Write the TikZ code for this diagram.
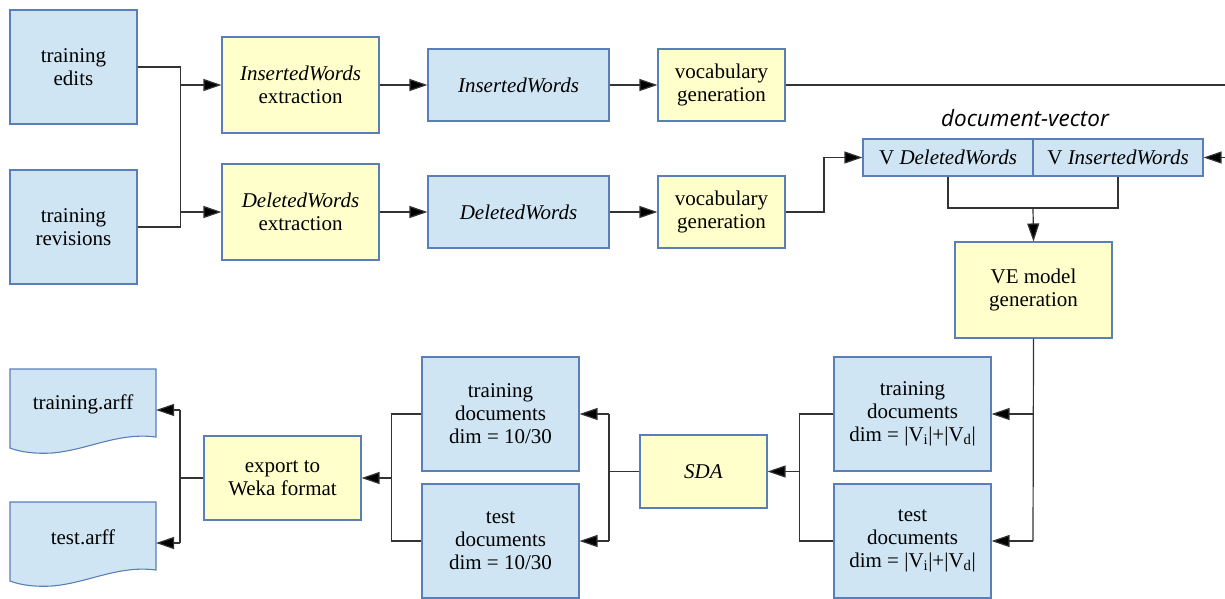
\documentclass[tikz,border=0pt]{standalone}
\usepackage{fontspec}
\setmainfont{Liberation Serif}
\newfontfamily\labelfont{Open Sans}
\usetikzlibrary{arrows.meta}
\definecolor{bfill}{HTML}{CFE5F3}
\definecolor{yfill}{HTML}{FFFFCC}
\definecolor{bord}{HTML}{5A7FB8}
\definecolor{lcol}{HTML}{333333}
\tikzset{
  base/.style={draw=bord, line width=1.1pt, inner sep=0pt, align=center,
    font=\fontsize{21}{23}\selectfont},
  bluebox/.style={base, fill=bfill},
  yellowbox/.style={base, fill=yfill},
  docb/.style={draw=bord, line width=1.1pt, fill=bfill},
  conn/.style={draw=lcol, line width=1.2pt},
  arr/.style={draw=lcol, line width=1.2pt, -{Triangle[length=18pt,width=12pt,fill=black]}},
  doctext/.style={inner sep=0pt, font=\fontsize{21}{23}\selectfont}
}
\begin{document}
\begin{tikzpicture}[x=1pt,y=-1pt]
\useasboundingbox (0,0) rectangle (1225,598);
% top row
\node[bluebox, minimum width=127, minimum height=114] (edits) at (73.5,67) {training\\edits};
\node[bluebox, minimum width=127, minimum height=114] (revs) at (73.5,227) {training\\revisions};
\node[yellowbox, minimum width=157, minimum height=96] (iwext) at (300.5,85) {\textit{InsertedWords}\\extraction};
\node[yellowbox, minimum width=157, minimum height=96] (dwext) at (300.5,212) {\textit{DeletedWords}\\extraction};
\node[bluebox, minimum width=181, minimum height=72] (iw) at (518.5,85) {\textit{InsertedWords}};
\node[bluebox, minimum width=181, minimum height=72] (dw) at (518.5,212) {\textit{DeletedWords}};
\node[yellowbox, minimum width=127, minimum height=72] (voc1) at (721.5,85) {vocabulary\\generation};
\node[yellowbox, minimum width=127, minimum height=72] (voc2) at (721.5,212) {vocabulary\\generation};
% document vector
\node[font=\labelfont\itshape\fontsize{22.5}{26}\selectfont, inner sep=0pt] (dvlabel) at (1025,118) {document-vector};
\node[bluebox, minimum width=170, minimum height=37] (vdw) at (948,157.5) {V \textit{DeletedWords}};
\node[bluebox, minimum width=170, minimum height=37] (viw) at (1118,157.5) {V \textit{InsertedWords}};
\node[yellowbox, minimum width=157, minimum height=96] (ve) at (1033.5,290) {VE model\\generation};
% bottom row
\node[bluebox, minimum width=157, minimum height=114] (trd) at (912.5,414) {training\\documents\\dim = |V\textsubscript{i}|+|V\textsubscript{d}|};
\node[bluebox, minimum width=157, minimum height=114] (ted) at (912.5,541) {test\\documents\\dim = |V\textsubscript{i}|+|V\textsubscript{d}|};
\node[yellowbox, minimum width=127, minimum height=73] (sda) at (703.5,471.5) {\textit{SDA}};
\node[bluebox, minimum width=157, minimum height=114] (tr10) at (500.5,414) {training\\documents\\dim = 10/30};
\node[bluebox, minimum width=157, minimum height=114] (te10) at (500.5,541) {test\\documents\\dim = 10/30};
\node[yellowbox, minimum width=157, minimum height=84] (exp) at (282.5,478) {export to\\Weka format};
% arff documents
\draw[docb] (10,369) -- (156,369) -- (156,437) .. controls (118,432) and (88,450) .. (52,453) .. controls (35,454) and (20,452) .. (10,448) -- cycle;
\draw[docb] (10,502) -- (156,502) -- (156,570) .. controls (118,565) and (88,583) .. (52,586) .. controls (35,587) and (20,585) .. (10,581) -- cycle;
\node[doctext] (trarff) at (83,404) {training.arff};
\node[doctext] (tearff) at (83,537) {test.arff};
% coordinates
\coordinate (jA) at (180,85);
\coordinate (jB) at (180,212);
\coordinate (vjoin) at (824,212);
\coordinate (edgeT) at (1225,85);
\coordinate (edgeV) at (1225,157.5);
\coordinate (vmid) at (1033,208);
\coordinate (vej) at (1033,414);
\coordinate (vebot) at (1033,541);
\coordinate (sdaj) at (800,471.5);
\coordinate (b3m) at (609,471.5);
\coordinate (b3t) at (609,414);
\coordinate (b3b) at (609,541);
\coordinate (ej) at (392,478);
\coordinate (a0) at (180,478);
\coordinate (a1) at (180,410);
\coordinate (a2) at (180,543);
\coordinate (arffT) at (156,410);
\coordinate (arffB) at (156,543);
% connectors
\draw[conn] (edits.east) -- ++(43,0) |- (revs.east);
\draw[arr] (jA) -- (iwext.west);
\draw[arr] (jB) -- (dwext.west);
\draw[arr] (iwext.east) -- (iw.west);
\draw[arr] (dwext.east) -- (dw.west);
\draw[arr] (iw.east) -- (voc1.west);
\draw[arr] (dw.east) -- (voc2.west);
\draw[conn] (voc1.east) -- (edgeT);
\draw[arr] (voc2.east) -- (vjoin) |- (vdw.west);
\draw[arr] (edgeV) -- (viw.east);
\draw[conn] (vdw.south) |- (vmid) -| (viw.south);
\draw[arr] (vmid) -- (ve.north);
\draw[conn] (ve.south) -- (vebot);
\draw[arr] (vej) -- (trd.east);
\draw[arr] (vebot) -- (ted.east);
\draw[conn] (trd.west) -- ++(-34,0) |- (ted.west);
\draw[arr] (sdaj) -- (sda.east);
\draw[conn] (sda.west) -- (b3m);
\draw[conn] (b3t) -- (b3b);
\draw[arr] (b3t) -- (tr10.east);
\draw[arr] (b3b) -- (te10.east);
\draw[conn] (tr10.west) -- ++(-30,0) |- (te10.west);
\draw[arr] (ej) -- (exp.east);
\draw[conn] (exp.west) -- (a0);
\draw[conn] (a1) -- (a2);
\draw[arr] (a1) -- (arffT);
\draw[arr] (a2) -- (arffB);
\end{tikzpicture}
\end{document}
